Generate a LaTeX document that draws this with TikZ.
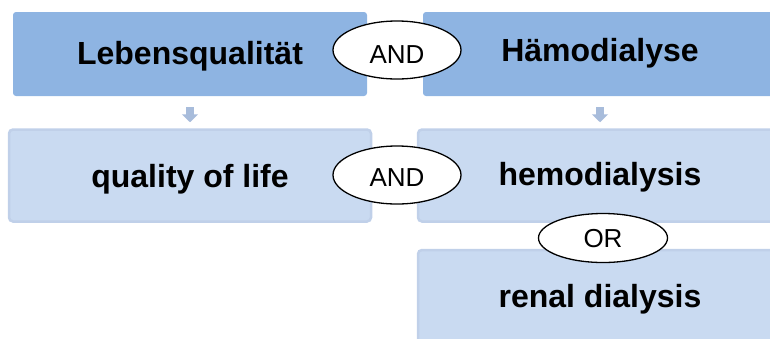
\documentclass[tikz,border=0pt]{standalone}
\usepackage{fontspec}
\setmainfont{Liberation Sans}
\usetikzlibrary{shapes.geometric,arrows.meta}
\definecolor{topfill}{RGB}{142,180,226}
\definecolor{lowfill}{RGB}{201,218,241}
\definecolor{lowedge}{RGB}{192,208,233}
\definecolor{arrowc}{RGB}{168,188,219}
\tikzset{
  topbox/.style={draw=none, fill=topfill, rounded corners=3pt, inner sep=0pt},
  lowbox/.style={draw=lowedge, line width=2.5pt, fill=lowfill, rounded corners=4pt, inner sep=0pt},
  label/.style={inner sep=0pt, font=\fontsize{32}{32}\selectfont\bfseries},
  oper/.style={draw=black, line width=1.3pt, fill=white, ellipse, inner sep=0pt,
    font=\fontsize{26}{26}\selectfont, text depth=0pt},
  blockarrow/.style={draw=arrowc, line width=8pt, -{Triangle[width=16pt,length=8pt]},
    shorten <=11pt, shorten >=6pt}
}
\begin{document}
\begin{tikzpicture}[x=1pt,y=-1pt]
\useasboundingbox (0,0) rectangle (770,338);
\clip (0,0) rectangle (770,338);
% top row
\node[topbox, minimum width=354pt, minimum height=84pt] (lq) at (190,54) {};
\node[label] (lqt) at (190,56) {Lebensqualität};
\node[topbox, minimum width=360pt, minimum height=84pt] (hd) at (603,54) {};
\node[label] (hdt) at (600,53) {Hämodialyse};
% second row
\node[lowbox, minimum width=362pt, minimum height=92pt] (ql) at (190,175.5) {};
\node[label] (qlt) at (190,179) {quality of life};
\node[lowbox, minimum width=364pt, minimum height=92pt] (he) at (600,175.5) {};
\node[label] (het) at (600,177) {hemodialysis};
% third row
\node[lowbox, minimum width=364pt, minimum height=94pt] (rd) at (600,297) {};
\node[label] (rdt) at (600,299) {renal dialysis};
% arrows
\draw[blockarrow] (lq.south) -- (ql.north);
\draw[blockarrow] (hd.south -| he.north) -- (he.north);
% operators
\node[oper, text height=26pt, minimum width=128pt, minimum height=58pt] (and1) at (397,50) {AND};
\node[oper, text height=22pt, minimum width=128pt, minimum height=58pt] (and2) at (397,175) {AND};
\node[oper, text height=18.6pt, minimum width=129pt, minimum height=49pt] (or1) at (603,238) {OR};
\end{tikzpicture}
\end{document}
